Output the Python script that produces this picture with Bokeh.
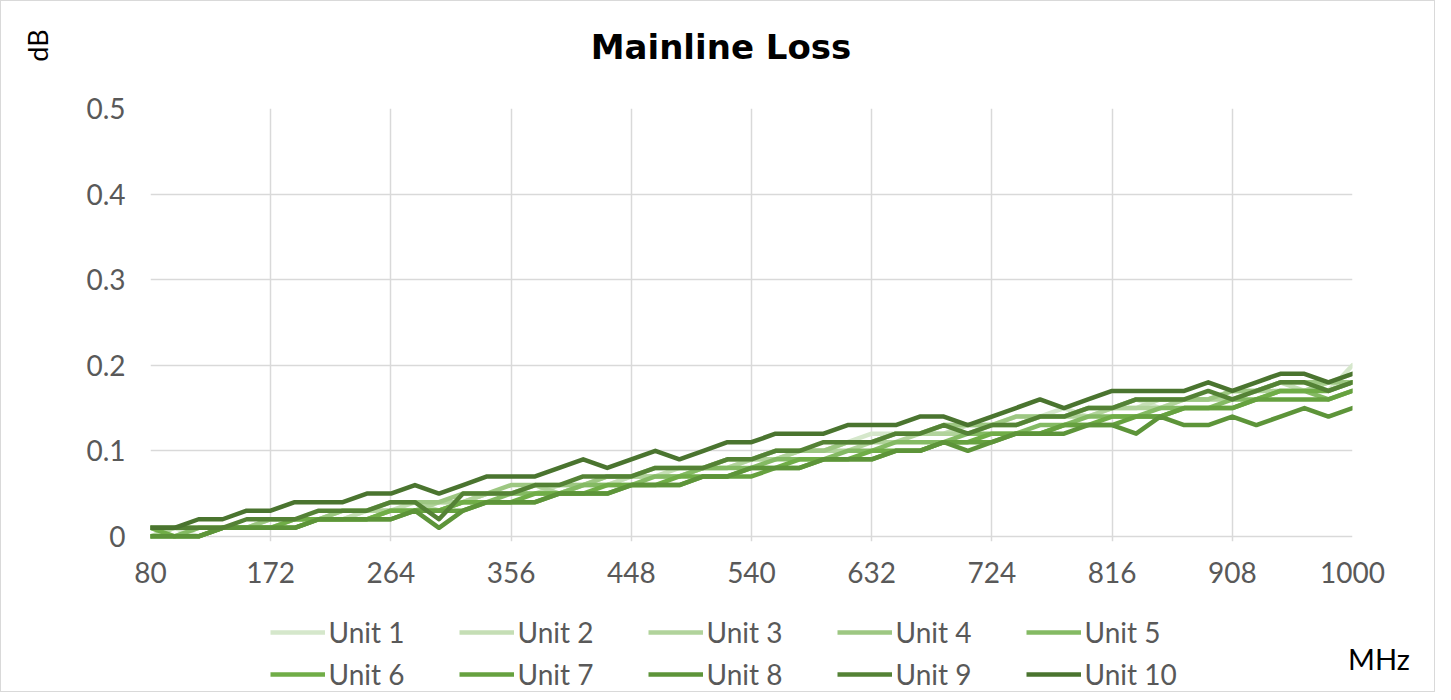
from bokeh.plotting import figure
from bokeh.layouts import column
from bokeh.models import Legend, LegendItem, FixedTicker, Range1d, Label, Plot
from bokeh.embed import file_html
from bokeh.resources import INLINE

# ---------------- data ----------------
freq_mhz = [80, 98.4, 116.8, 135.2, 153.6, 172, 190.4, 208.8, 227.2, 245.6,
            264, 282.4, 300.8, 319.2, 337.6, 356, 374.4, 392.8, 411.2, 429.6,
            448, 466.4, 484.8, 503.2, 521.6, 540, 558.4, 576.8, 595.2, 613.6,
            632, 650.4, 668.8, 687.2, 705.6, 724, 742.4, 760.8, 779.2, 797.6,
            816, 834.4, 852.8, 871.2, 889.6, 908, 926.4, 944.8, 963.2, 981.6,
            1000]

unit1 = [0.00, 0.01, 0.00, 0.01, 0.01, 0.01, 0.02, 0.02, 0.02, 0.03,
         0.03, 0.03, 0.04, 0.04, 0.05, 0.05, 0.06, 0.05, 0.06, 0.06,
         0.07, 0.07, 0.07, 0.08, 0.08, 0.09, 0.10, 0.10, 0.10, 0.11,
         0.12, 0.12, 0.12, 0.13, 0.13, 0.13, 0.14, 0.14, 0.15, 0.14,
         0.15, 0.16, 0.15, 0.16, 0.16, 0.17, 0.17, 0.18, 0.18, 0.17,
         0.20]
unit2 = [0.01, 0.00, 0.01, 0.01, 0.01, 0.02, 0.02, 0.02, 0.02, 0.03,
         0.03, 0.04, 0.03, 0.04, 0.05, 0.05, 0.05, 0.06, 0.06, 0.06,
         0.07, 0.07, 0.08, 0.08, 0.09, 0.09, 0.09, 0.10, 0.10, 0.11,
         0.11, 0.12, 0.12, 0.12, 0.13, 0.13, 0.13, 0.14, 0.14, 0.15,
         0.15, 0.15, 0.16, 0.16, 0.16, 0.17, 0.17, 0.18, 0.17, 0.18,
         0.19]
unit3 = [0.00, 0.01, 0.01, 0.01, 0.01, 0.01, 0.02, 0.02, 0.03, 0.03,
         0.03, 0.03, 0.04, 0.04, 0.05, 0.05, 0.06, 0.05, 0.06, 0.07,
         0.07, 0.07, 0.07, 0.08, 0.08, 0.09, 0.09, 0.10, 0.10, 0.10,
         0.11, 0.11, 0.12, 0.12, 0.12, 0.13, 0.13, 0.14, 0.14, 0.14,
         0.15, 0.15, 0.15, 0.16, 0.16, 0.16, 0.17, 0.17, 0.17, 0.18,
         0.18]
unit4 = [0.01, 0.01, 0.01, 0.01, 0.01, 0.02, 0.02, 0.02, 0.03, 0.03,
         0.04, 0.04, 0.04, 0.05, 0.05, 0.06, 0.06, 0.06, 0.06, 0.07,
         0.07, 0.08, 0.08, 0.08, 0.09, 0.09, 0.10, 0.10, 0.10, 0.11,
         0.11, 0.12, 0.12, 0.13, 0.13, 0.13, 0.14, 0.14, 0.14, 0.15,
         0.15, 0.16, 0.16, 0.16, 0.16, 0.17, 0.17, 0.18, 0.18, 0.18,
         0.18]
unit5 = [0.00, 0.00, 0.01, 0.01, 0.01, 0.01, 0.01, 0.02, 0.02, 0.02,
         0.03, 0.03, 0.03, 0.04, 0.04, 0.05, 0.05, 0.05, 0.06, 0.06,
         0.06, 0.07, 0.07, 0.08, 0.08, 0.08, 0.09, 0.09, 0.09, 0.10,
         0.10, 0.11, 0.11, 0.11, 0.12, 0.12, 0.12, 0.13, 0.13, 0.14,
         0.14, 0.14, 0.15, 0.15, 0.15, 0.16, 0.16, 0.17, 0.17, 0.16,
         0.17]
unit6 = [0.01, 0.00, 0.00, 0.01, 0.01, 0.01, 0.02, 0.02, 0.02, 0.02,
         0.03, 0.03, 0.03, 0.04, 0.04, 0.04, 0.05, 0.05, 0.05, 0.06,
         0.06, 0.06, 0.07, 0.07, 0.07, 0.08, 0.08, 0.09, 0.09, 0.09,
         0.10, 0.10, 0.10, 0.11, 0.11, 0.12, 0.12, 0.12, 0.13, 0.13,
         0.14, 0.14, 0.14, 0.15, 0.15, 0.15, 0.16, 0.17, 0.17, 0.17,
         0.18]
unit7 = [0.00, 0.00, 0.00, 0.01, 0.01, 0.01, 0.01, 0.02, 0.02, 0.02,
         0.02, 0.03, 0.03, 0.03, 0.04, 0.04, 0.04, 0.05, 0.05, 0.05,
         0.06, 0.06, 0.06, 0.07, 0.07, 0.07, 0.08, 0.08, 0.09, 0.09,
         0.09, 0.10, 0.10, 0.11, 0.11, 0.11, 0.12, 0.12, 0.13, 0.13,
         0.13, 0.14, 0.14, 0.15, 0.15, 0.15, 0.16, 0.16, 0.16, 0.16,
         0.17]
unit8 = [0.00, 0.00, 0.00, 0.01, 0.01, 0.01, 0.01, 0.02, 0.02, 0.02,
         0.02, 0.03, 0.01, 0.03, 0.04, 0.04, 0.04, 0.05, 0.05, 0.05,
         0.06, 0.06, 0.06, 0.07, 0.07, 0.08, 0.08, 0.08, 0.09, 0.09,
         0.09, 0.10, 0.10, 0.11, 0.10, 0.11, 0.12, 0.12, 0.12, 0.13,
         0.13, 0.12, 0.14, 0.13, 0.13, 0.14, 0.13, 0.14, 0.15, 0.14,
         0.15]
unit9 = [0.01, 0.01, 0.01, 0.01, 0.02, 0.02, 0.02, 0.03, 0.03, 0.03,
         0.04, 0.04, 0.02, 0.05, 0.05, 0.05, 0.06, 0.06, 0.07, 0.07,
         0.07, 0.08, 0.08, 0.08, 0.09, 0.09, 0.10, 0.10, 0.11, 0.11,
         0.11, 0.12, 0.12, 0.13, 0.12, 0.13, 0.13, 0.14, 0.14, 0.15,
         0.15, 0.16, 0.16, 0.16, 0.17, 0.16, 0.17, 0.18, 0.18, 0.17,
         0.18]
unit10 = [0.01, 0.01, 0.02, 0.02, 0.03, 0.03, 0.04, 0.04, 0.04, 0.05,
          0.05, 0.06, 0.05, 0.06, 0.07, 0.07, 0.07, 0.08, 0.09, 0.08,
          0.09, 0.10, 0.09, 0.10, 0.11, 0.11, 0.12, 0.12, 0.12, 0.13,
          0.13, 0.13, 0.14, 0.14, 0.13, 0.14, 0.15, 0.16, 0.15, 0.16,
          0.17, 0.17, 0.17, 0.17, 0.18, 0.17, 0.18, 0.19, 0.19, 0.18,
          0.19]

series = [unit1, unit2, unit3, unit4, unit5, unit6, unit7, unit8, unit9, unit10]
names = ["Unit 1", "Unit 2", "Unit 3", "Unit 4", "Unit 5",
         "Unit 6", "Unit 7", "Unit 8", "Unit 9", "Unit 10"]
colors = ["#d5e7cb", "#c5deb5", "#b1d39b", "#9dc782", "#84ba63",
          "#70ad47", "#66a13f", "#5d9439", "#548235", "#4a742f"]

x_ticks = [80, 172, 264, 356, 448, 540, 632, 724, 816, 908, 1000]
y_ticks = [0, 0.1, 0.2, 0.3, 0.4, 0.5]
y_tick_labels = ["0", "0.1", "0.2", "0.3", "0.4", "0.5"]

FONT = "Lato"
W = 1433
LW = 4.5
NOALIGN = {"frame_align": False} if "frame_align" in Plot.properties() else {}


def bare(h):
    """A figure whose frame fills the whole canvas, with pixel-like ranges."""
    f = figure(width=W, height=h, output_backend="svg", toolbar_location=None,
               x_range=Range1d(0, W), y_range=Range1d(h, 0),
               x_axis_type=None, y_axis_type=None,
               min_border=0, min_border_left=0, min_border_right=0,
               min_border_top=0, min_border_bottom=0, **NOALIGN)
    f.outline_line_color = None
    f.grid.visible = False
    f.background_fill_color = "white"
    f.border_fill_color = "white"
    return f


# ---------------- top strip: title and y-axis title ----------------
top = bare(90)
top.add_layout(Label(x=719.5, y=45, text="Mainline Loss", text_font="DejaVu Sans",
                     text_font_style="bold", text_font_size="34px",
                     text_align="center", text_baseline="middle", text_color="black"))
top.add_layout(Label(x=36, y=44, text="dB", text_font=FONT, text_font_size="27px",
                     angle=1.5708, text_align="center", text_baseline="middle",
                     text_color="black"))

# ---------------- main chart ----------------
p = figure(width=W, height=503, output_backend="svg", toolbar_location=None,
           x_range=Range1d(80, 1000), y_range=Range1d(-0.006, 0.5),
           min_border_left=149, min_border_right=82,
           min_border_top=17, min_border_bottom=53, **NOALIGN)
p.outline_line_color = None
p.background_fill_color = "white"
p.border_fill_color = "white"

p.xaxis.ticker = FixedTicker(ticks=x_ticks)
p.yaxis.ticker = FixedTicker(ticks=y_ticks)
p.yaxis.major_label_overrides = {t: s for t, s in zip(y_ticks, y_tick_labels)}
for ax in (p.xaxis[0], p.yaxis[0]):
    ax.axis_line_color = None
    ax.major_tick_line_color = None
    ax.minor_tick_line_color = None
    ax.major_label_text_font = FONT
    ax.major_label_text_font_size = "28px"
    ax.major_label_text_color = "#595959"
p.xaxis.major_label_standoff = 14
p.yaxis.major_label_standoff = 19

p.xgrid.grid_line_color = "#d9d9d9"
p.ygrid.grid_line_color = "#d9d9d9"
p.xgrid.grid_line_width = 1.5
p.ygrid.grid_line_width = 1.5

for vals, c in zip(series, colors):
    p.line(freq_mhz, vals, line_width=LW, line_color=c,
           line_join="round", line_cap="round")

# ---------------- bottom strip: legend and x-axis title ----------------
bot = bare(97)
# legend keys: the same series, drawn against a range that keeps them off-canvas
bot.extra_y_ranges = {"keys": Range1d(10, 11)}
keys = [bot.line(freq_mhz, vals, line_width=LW, line_color=c, y_range_name="keys")
        for vals, c in zip(series, colors)]
row_y = [42, 0]
for row in range(2):
    items = [LegendItem(label=names[i], renderers=[keys[i]])
             for i in range(row * 5, row * 5 + 5)]
    bot.add_layout(Legend(items=items, orientation="horizontal",
                          location=(268.5, row_y[row]),
                          glyph_width=55, glyph_height=30,
                          label_width=130, label_height=30,
                          label_standoff=4, padding=0, margin=0, spacing=0,
                          border_line_color=None, background_fill_alpha=0,
                          label_text_font=FONT, label_text_font_size="28px",
                          label_text_color="#595959"))
bot.add_layout(Label(x=1377.5, y=64, text="MHz", text_font=FONT, text_font_size="29px",
                     text_align="center", text_baseline="middle", text_color="black"))

layout = column(top, p, bot, spacing=0,
                styles={"border": "1px solid #d9d9d9"})

open("out.html", "w").write(file_html(layout, INLINE))
